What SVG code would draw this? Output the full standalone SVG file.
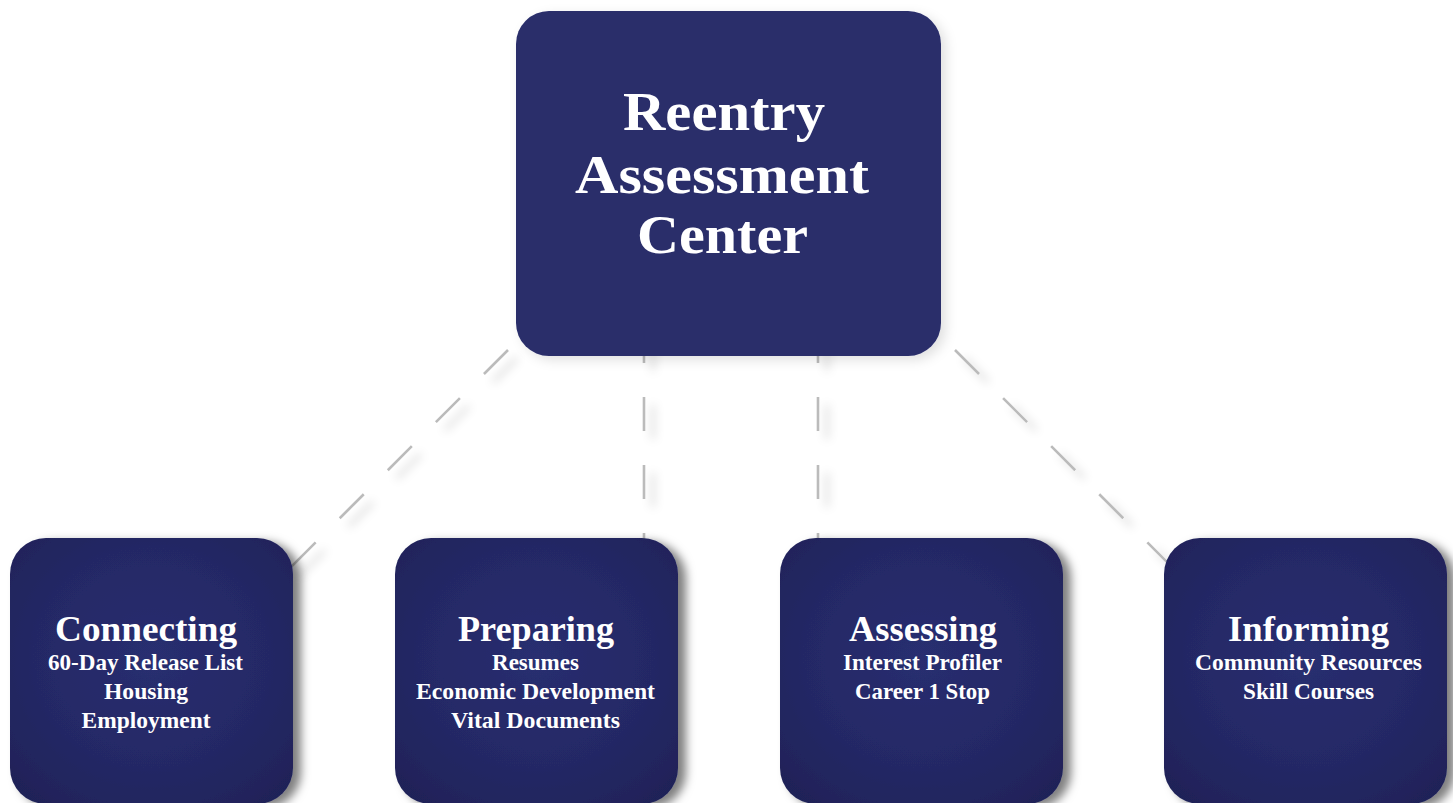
<svg xmlns="http://www.w3.org/2000/svg" width="1453" height="803" viewBox="0 0 1453 803">
<defs>
<radialGradient id="boxGrad" cx="50%" cy="45%" r="70%">
<stop offset="0" stop-color="#292e70"/>
<stop offset="0.6" stop-color="#242865"/>
<stop offset="1" stop-color="#1f2257"/>
</radialGradient>
<filter id="boxShadow" x="-10%" y="-10%" width="130%" height="130%">
<feDropShadow dx="8" dy="4" stdDeviation="5" flood-color="#000" flood-opacity="0.5"/>
</filter>
<filter id="topShadow" x="-10%" y="-10%" width="130%" height="130%">
<feDropShadow dx="5" dy="4" stdDeviation="6" flood-color="#000" flood-opacity="0.12"/>
</filter>
<filter id="dashShadow" x="-50%" y="-50%" width="200%" height="200%">
<feDropShadow dx="9" dy="8" stdDeviation="5" flood-color="#000" flood-opacity="0.22"/>
</filter>
<style>
.conn{stroke:#bbbbbb;stroke-width:2.6;fill:none;stroke-dasharray:34 34;}
.title{font-family:"Liberation Serif","Times New Roman",serif;font-weight:bold;fill:#ffffff;text-anchor:middle;}
.big{font-size:55px;}
.head{font-size:36px;}
.sub{font-size:22.5px;}
</style>
</defs>
<rect width="1453" height="803" fill="#ffffff"/>
<g id="connectors" filter="url(#dashShadow)">
<line class="conn" x1="508" y1="350" x2="290" y2="568"/>
<line class="conn" x1="955" y1="350" x2="1173" y2="568"/>
<line class="conn" x1="644" y1="329" x2="644" y2="545"/>
<line class="conn" x1="818" y1="329" x2="818" y2="545"/>
</g>
<g id="node-center">
<rect x="516" y="11" width="425" height="345" rx="33" fill="#292d6b" filter="url(#topShadow)"/>
<text class="title big" x="724" y="130" textLength="202" lengthAdjust="spacingAndGlyphs">Reentry</text>
<text class="title big" x="722" y="193" textLength="294" lengthAdjust="spacingAndGlyphs">Assessment</text>
<text class="title big" x="722.5" y="253" textLength="171" lengthAdjust="spacingAndGlyphs">Center</text>
</g>
<g id="node-connecting">
<rect x="10" y="538" width="283" height="266" rx="36" fill="url(#boxGrad)" filter="url(#boxShadow)"/>
<text class="title head" x="146" y="641" textLength="182" lengthAdjust="spacingAndGlyphs">Connecting</text>
<text class="title sub" x="145.5" y="670" textLength="195" lengthAdjust="spacingAndGlyphs">60-Day Release List</text>
<text class="title sub" x="146" y="699" textLength="84" lengthAdjust="spacingAndGlyphs">Housing</text>
<text class="title sub" x="146" y="728" textLength="129" lengthAdjust="spacingAndGlyphs">Employment</text>
</g>
<g id="node-preparing">
<rect x="395" y="538" width="283" height="266" rx="36" fill="url(#boxGrad)" filter="url(#boxShadow)"/>
<text class="title head" x="536" y="641" textLength="156" lengthAdjust="spacingAndGlyphs">Preparing</text>
<text class="title sub" x="535.5" y="670" textLength="87" lengthAdjust="spacingAndGlyphs">Resumes</text>
<text class="title sub" x="535.5" y="699" textLength="239" lengthAdjust="spacingAndGlyphs">Economic Development</text>
<text class="title sub" x="535.5" y="728" textLength="169" lengthAdjust="spacingAndGlyphs">Vital Documents</text>
</g>
<g id="node-assessing">
<rect x="780" y="538" width="283" height="266" rx="36" fill="url(#boxGrad)" filter="url(#boxShadow)"/>
<text class="title head" x="923" y="641" textLength="148" lengthAdjust="spacingAndGlyphs">Assessing</text>
<text class="title sub" x="922.5" y="670" textLength="159" lengthAdjust="spacingAndGlyphs">Interest Profiler</text>
<text class="title sub" x="922.5" y="699" textLength="135" lengthAdjust="spacingAndGlyphs">Career 1 Stop</text>
</g>
<g id="node-informing">
<rect x="1164" y="538" width="283" height="266" rx="36" fill="url(#boxGrad)" filter="url(#boxShadow)"/>
<text class="title head" x="1308.5" y="641" textLength="161" lengthAdjust="spacingAndGlyphs">Informing</text>
<text class="title sub" x="1308.5" y="670" textLength="227" lengthAdjust="spacingAndGlyphs">Community Resources</text>
<text class="title sub" x="1308.5" y="699" textLength="131" lengthAdjust="spacingAndGlyphs">Skill Courses</text>
</g>
</svg>
